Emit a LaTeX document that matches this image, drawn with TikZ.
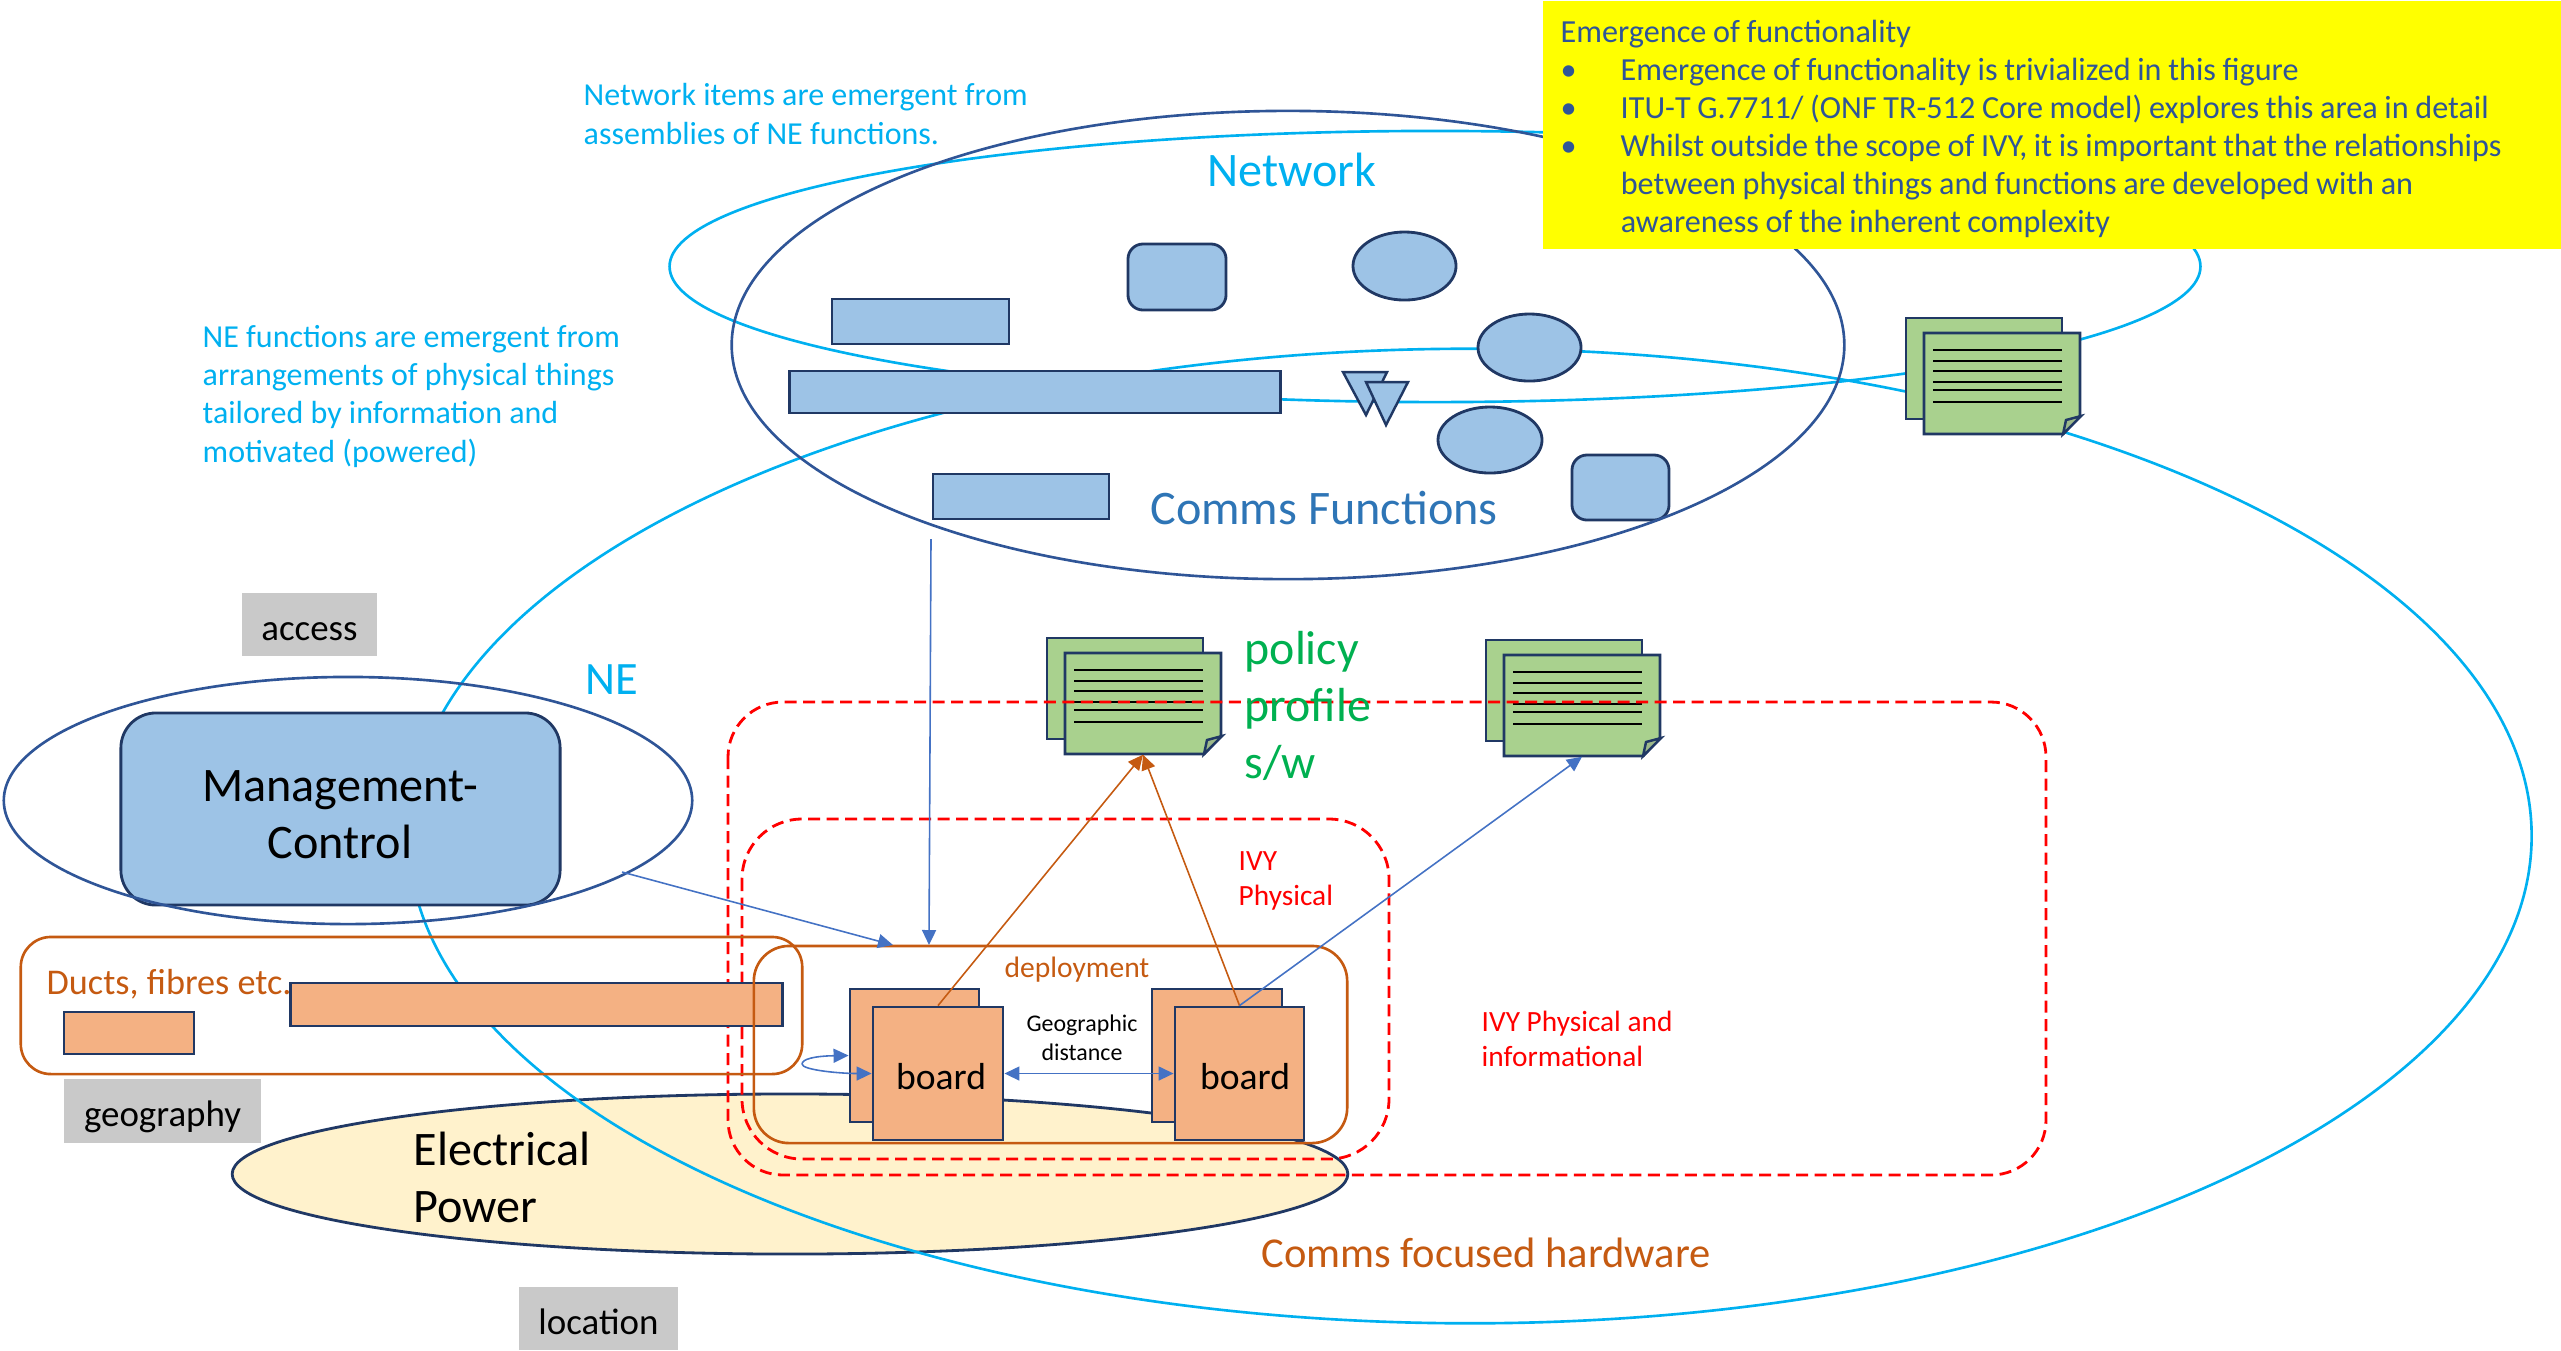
\documentclass[tikz,border=0pt]{standalone}
\usepackage{fontspec}
\setmainfont{Carlito}
\usetikzlibrary{arrows.meta,shapes.geometric}
\definecolor{navyline}{HTML}{203864}
\definecolor{ringblue}{HTML}{2F5597}
\definecolor{skyline}{HTML}{00B0F0}
\definecolor{fnblue}{HTML}{9DC3E6}
\definecolor{hwfill}{HTML}{F4B183}
\definecolor{hwline}{HTML}{C55A11}
\definecolor{docfill}{HTML}{A9D18E}
\definecolor{powerfill}{HTML}{FFF2CC}
\definecolor{tagfill}{HTML}{C9C9C9}
\definecolor{linkblue}{HTML}{4472C4}
\definecolor{commsblue}{HTML}{2E75B6}
\definecolor{policygreen}{HTML}{00B050}
\definecolor{noteyellow}{HTML}{FFFF00}
\newcommand{\tagtext}[1]{\raisebox{-4.5pt}[0pt][0pt]{#1}}
\tikzset{
  fnrect/.style={rectangle,draw=navyline,fill=fnblue,line width=0.8pt,inner sep=0pt},
  fnround/.style={fnrect,rounded corners=1.5mm},
  fnoval/.style={ellipse,draw=navyline,fill=fnblue,line width=0.8pt,inner sep=0pt},
  fntri/.style={draw=navyline,fill=fnblue,line width=0.7pt},
  ring/.style={ellipse,draw=ringblue,line width=0.75pt,inner sep=0pt},
  skyring/.style={ellipse,draw=skyline,line width=0.75pt,inner sep=0pt},
  hwrect/.style={rectangle,draw=navyline,fill=hwfill,line width=0.8pt,inner sep=0pt},
  hwarea/.style={rectangle,draw=hwline,line width=0.75pt,inner sep=0pt},
  docsheet/.style={rectangle,draw=navyline,fill=docfill,line width=0.8pt,inner sep=0pt,minimum width=15.6mm,minimum height=10.1mm},
  docline/.style={draw=black,line width=0.3pt},
  ivyarea/.style={draw=red,line width=0.8pt,dash pattern=on 1.2mm off 0.65mm},
  tag/.style={rectangle,fill=tagfill,inner sep=0pt,font=\fontsize{10.5}{12}\selectfont},
  bluelink/.style={draw=linkblue,line width=0.45pt,-{Triangle[length=1.5mm,width=1.4mm]}},
  hwlink/.style={draw=hwline,line width=0.45pt,-{Triangle[length=1.5mm,width=1.4mm]}},
  note/.style={anchor=west,align=left,inner sep=0pt,text=skyline,font=\fontsize{9.1}{10.9}\selectfont},
  rednote/.style={anchor=west,align=left,inner sep=0pt,text=red,font=\fontsize{8.35}{9.8}\selectfont},
  big/.style={inner sep=0pt,font=\fontsize{13.7}{16.2}\selectfont}
}
\begin{document}
\begin{tikzpicture}[x=0.01cm,y=-0.01cm]
    \useasboundingbox (0,0) rectangle (2561,1350);
    % rings
    \node (power) at (790,1174) [ellipse,draw=navyline,fill=powerfill,line width=0.8pt,inner sep=0pt,minimum width=111.5mm,minimum height=16mm] {};
    \node (nefun) at (1470,836) [skyring,minimum width=212.2mm,minimum height=97.4mm] {};
    \node (nwfun) at (1435,266.5) [skyring,minimum width=153mm,minimum height=27.1mm] {};
    % comms functions
    \node (fna) at (920.5,321.5) [fnrect,minimum width=17.7mm,minimum height=4.5mm] {};
    \node (fnb) at (1035,392) [fnrect,minimum width=49mm,minimum height=4.2mm] {};
    \node (fnc) at (1021,496.5) [fnrect,minimum width=17.6mm,minimum height=4.5mm] {};
    \node (fnd) at (1177,277) [fnround,minimum width=9.8mm,minimum height=6.6mm] {};
    \node (fne) at (1620.5,487.5) [fnround,minimum width=9.7mm,minimum height=6.5mm] {};
    \node (fnf) at (1404.5,266) [fnoval,minimum width=10.3mm,minimum height=6.8mm] {};
    \node (fng) at (1529.5,347.5) [fnoval,minimum width=10.3mm,minimum height=6.7mm] {};
    \node (fnh) at (1490,440) [fnoval,minimum width=10.4mm,minimum height=6.6mm] {};
    \draw[fntri] (1343,372) -- (1387,372) -- (1366,415) -- cycle;
    \draw[fntri] (1366,382) -- (1408,382) -- (1386,425) -- cycle;
    \node (network) at (1288,345) [ring,minimum width=111.2mm,minimum height=46.8mm] {};
    % yellow note
    \node (emergebox) at (1542,0) [anchor=north west,fill=noteyellow,inner sep=0pt,minimum width=101.9mm,minimum height=24.8mm] {};
    \node (emerge) at (1560,129) [anchor=west,text=ringblue,inner sep=0pt,text width=98.1mm,align=left,font=\fontsize{9.15}{10.85}\selectfont] {\spaceskip=1.9pt\relax Emergence of functionality\\
      \makebox[6mm][l]{\textbullet}Emergence of functionality is trivialized in this figure\\
      \makebox[6mm][l]{\textbullet}ITU-T G.7711/ (ONF TR-512 Core model) explores this area in detail\\
      \makebox[6mm][l]{\textbullet}Whilst outside the scope of IVY, it is important that the relationships\\
      \hspace*{6mm}between physical things and functions are developed with an\\
      \hspace*{6mm}awareness of the inherent complexity};
    % documents
    \foreach \nm/\px/\py in {dca/1065/653,dcb/1504/655,dcc/1924/333}{
      \node (\nm back) at (\px+60,\py+35.5) [docsheet] {};
      \node (\nm) at (\px+78,\py+50.5) [minimum width=15.6mm,minimum height=10.1mm,inner sep=0pt] {};
      \draw[draw=navyline,fill=docfill,line width=0.8pt] (\px,\py) -- (\px+156,\py) -- (\px+156,\py+83) -- (\px+139,\py+101) -- (\px,\py+101) -- cycle;
      \foreach \ly in {17,28,38,49,57,69}
        \draw[docline] (\px+9,\py+\ly) -- (\px+138,\py+\ly);
      \draw[draw=navyline,fill=docfill!70!gray,line width=0.7pt] (\px+139,\py+101) -- (\px+157,\py+83) -- (\px+142,\py+87) -- cycle;
    }
    % IVY areas
    \draw[ivyarea,rounded corners=5.5mm] (728,702) rectangle (2046,1175);
    \draw[ivyarea,rounded corners=6mm] (742,819) rectangle (1389,1159);
    % NE
    \node (mgmt) at (340.5,809) [fnrect,rounded corners=3.5mm,minimum width=43.9mm,minimum height=19.2mm] {};
    \node (mgmtname) at (340,815) [align=center,big] {Management-\\Control};
    \node (ne) at (348,800.5) [ring,minimum width=68.8mm,minimum height=24.7mm] {};
    % hardware
    \node (ducts) at (411.5,1005.5) [hwarea,rounded corners=3mm,minimum width=78.1mm,minimum height=13.7mm] {};
    \node (duct) at (129,1033) [hwrect,minimum width=13mm,minimum height=4.2mm] {};
    \node (ductname) at (46,984) [anchor=west,inner sep=0pt,text=hwline,font=\fontsize{10.3}{12}\selectfont] {Ducts, fibres etc.};
    \node (fibre) at (536.5,1004.5) [hwrect,minimum width=49.1mm,minimum height=4.3mm] {};
    \node (deploy) at (1050.5,1044.5) [hwarea,rounded corners=3.5mm,minimum width=59.3mm,minimum height=19.7mm] {};
    \node (bdaback) at (914.5,1055.5) [hwrect,minimum width=12.9mm,minimum height=13.3mm] {};
    \node (bda) at (938,1073.5) [hwrect,minimum width=13mm,minimum height=13.3mm,font=\fontsize{10.7}{12}\selectfont] {\makebox[0pt]{\hspace{0.6mm}\raisebox{-4.5pt}[0pt][0pt]{board}}};
    \node (bdbback) at (1217,1055.5) [hwrect,minimum width=13mm,minimum height=13.3mm] {};
    \node (bdb) at (1239.5,1073.5) [hwrect,minimum width=12.9mm,minimum height=13.3mm,font=\fontsize{10.7}{12}\selectfont] {\makebox[0pt]{\hspace{1.1mm}\raisebox{-4.5pt}[0pt][0pt]{board}}};
    % links
    \coordinate (fnfoot) at (931,539);
    \coordinate (deployin) at (929,945);
    \coordinate (deploytop) at (893,945);
    \coordinate (neout) at (622,872);
    \coordinate (loopend) at (802,1064);
    \draw[bluelink] (fnfoot) to (deployin);
    \draw[bluelink] (neout) to (deploytop);
    \draw[hwlink] (bda.north) to (dca.south);
    \draw[hwlink] (bdb.north) to (dca.south);
    \draw[bluelink] (bdb.north) to (dcb.south);
    \draw[bluelink,{Triangle[length=1.5mm,width=1.4mm]}-{Triangle[length=1.5mm,width=1.4mm]}] (bda.east) to (bdb.west);
    \draw[bluelink,{Triangle[length=1.5mm,width=1.4mm]}-] (bdaback.west) .. controls (815,1056) and (802,1059) .. (loopend);
    \draw[bluelink] (loopend) .. controls (802,1070) and (840,1073.5) .. (bda.west);
    % labels
    \node (nwnote) at (583,114) [note] {Network items are emergent from\\assemblies of NE functions.};
    \node (fnnote) at (202,396) [note] {NE functions are emergent from\\arrangements of physical things\\tailored by information and\\motivated (powered)};
    \node (nwname) at (1292,170) [text=skyline,big] {Network};
    \node (cmname) at (1324,508) [text=commsblue,inner sep=0pt,font=\fontsize{13.7}{15}\selectfont] {Comms Functions};
    \node (nename) at (612,680) [text=skyline,inner sep=0pt,font=\fontsize{13.2}{15}\selectfont] {NE};
    \node (access) at (309.5,624.5) [tag,minimum width=13.5mm,minimum height=6.3mm] {\tagtext{access}};
    \node (geog) at (162.5,1111) [tag,minimum width=19.7mm,minimum height=6.4mm] {\tagtext{geography}};
    \node (locat) at (598.5,1318.5) [tag,minimum width=15.9mm,minimum height=6.3mm] {\tagtext{location}};
    \node (pwrname) at (413,1177) [anchor=west,align=left,big] {Electrical\\Power};
    \node (depname) at (1077,970) [inner sep=0pt,text=hwline,font=\fontsize{8.4}{10}\selectfont] {deployment};
    \node (geodist) at (1082,1038) [inner sep=0pt,align=center,font=\fontsize{6.8}{8.2}\selectfont] {Geographic\\distance};
    \node (pollist) at (1244,706) [anchor=west,align=left,inner sep=0pt,text=policygreen,font=\fontsize{13.6}{16.2}\selectfont] {policy\\profile\\s/w};
    \node (ivyp) at (1238,881) [rednote] {IVY\\Physical};
    \node (ivypi) at (1481,1039) [rednote] {IVY Physical and\\informational};
    \node (hwname) at (1486,1253) [inner sep=0pt,text=hwline,font=\fontsize{12.1}{14}\selectfont] {Comms focused hardware};
\end{tikzpicture}
\end{document}
